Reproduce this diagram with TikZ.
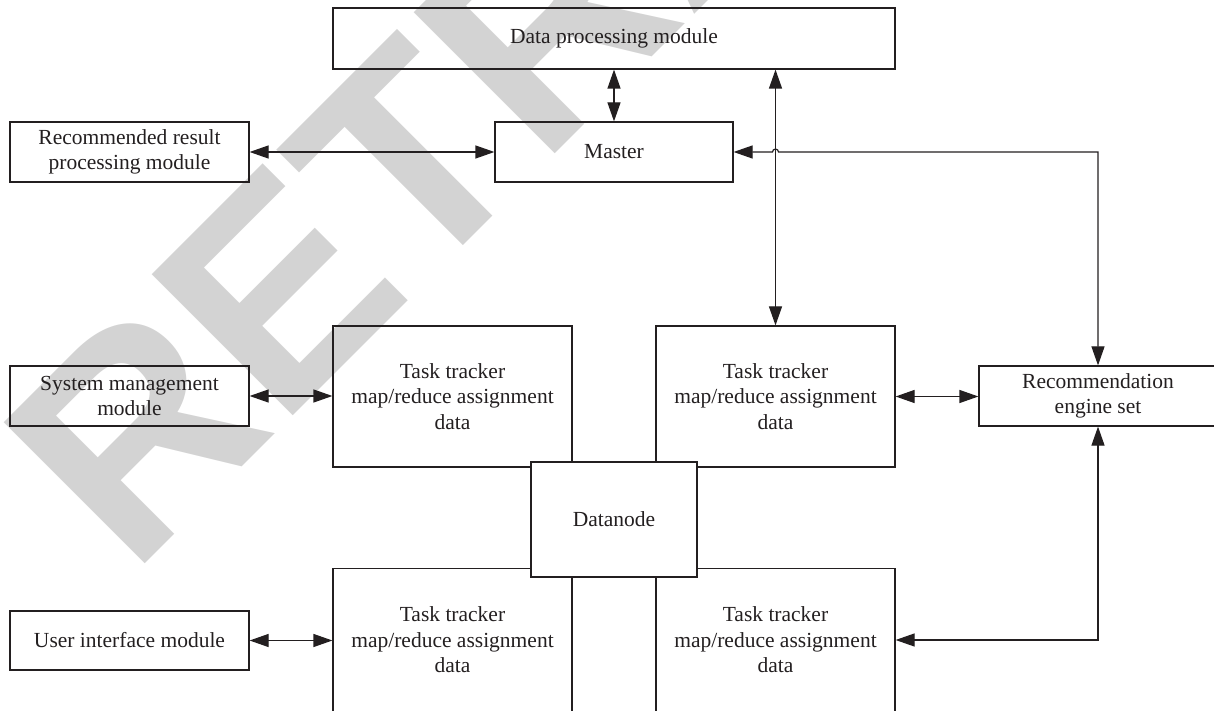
\documentclass[tikz,border=0pt]{standalone}
\usepackage{fontspec}
\setmainfont{Liberation Serif}
\newfontfamily\wmfont{Liberation Sans}
\usetikzlibrary{arrows.meta}
\definecolor{wmgrey}{RGB}{211,211,211}
\definecolor{ink}{RGB}{35,31,32}
\begin{document}
\begin{tikzpicture}[x=1pt,y=1pt,
  box/.style={draw=ink,line width=1.2pt,inner sep=0pt,align=center,text=ink,
    font=\fontsize{21.5}{25.5}\selectfont},
  link/.style={draw=ink,line width=1.2pt,{Triangle[length=19pt,width=13pt]}-{Triangle[length=19pt,width=13pt]}},
  wm/.style={text=wmgrey,inner sep=0pt,rotate=45,anchor=base west,
    font=\wmfont\bfseries\fontsize{290}{300}\selectfont}]
\useasboundingbox (0,0) rectangle (1214,710);
\clip (0,0) rectangle (1214,710);

% background stamp
\node[wm] (stamp) at (131,132) {RETRACTED};

% modules
\node[box,minimum width=562pt,minimum height=61pt] (dp) at (614,671.5) {Data processing module};
\node[box,minimum width=238pt,minimum height=60pt] (master) at (614,558) {Master};
\node[box,minimum width=239pt,minimum height=60pt] (recres) at (129.5,558) {Recommended result\\processing module};
\node[box,minimum width=239pt,minimum height=60pt] (sysm) at (129.5,314) {System management\\module};
\node[box,minimum width=239pt,minimum height=59pt] (ui) at (129.5,69.5) {User interface module};
\node[box,minimum width=238pt,minimum height=60pt] (reng) at (1098,314) {Recommendation\\engine set};

% task trackers around the datanode
\node[box,minimum width=239pt,minimum height=141pt] (tt1) at (452.5,313.5) {Task tracker\\map/reduce assignment\\data};
\node[box,minimum width=239pt,minimum height=141pt] (tt2) at (775.5,313.5) {Task tracker\\map/reduce assignment\\data};
\node[box,minimum width=239pt,minimum height=143pt] (tt3) at (452.5,70) {Task tracker\\map/reduce assignment\\data};
\node[box,minimum width=239pt,minimum height=143pt] (tt4) at (775.5,70) {Task tracker\\map/reduce assignment\\data};
\node[box,fill=white,minimum width=166pt,minimum height=115pt] (dn) at (614,190.5) {Datanode};

% connectors
\draw[link] (dp.south) -- (master.north);
\draw[link] (recres.east) -- (master.west);
\draw[link] (tt2.north) -- (tt2.north |- dp.south);
\coordinate (hop) at (tt2.north |- master.east);
\draw[link] (master.east) -- ([xshift=-3pt]hop) arc[start angle=180,end angle=0,radius=3pt]
  -- (reng.north |- master.east) -- (reng.north);
\draw[link] (sysm.east) -- (sysm.east -| tt1.west);
\draw[link] (tt2.east) -- (tt2.east -| reng.west);
\draw[link] (ui.east) -- (ui.east -| tt3.west);
\draw[link] (tt4.east) -- (tt4.east -| reng.south) -- (reng.south);
\end{tikzpicture}
\end{document}
